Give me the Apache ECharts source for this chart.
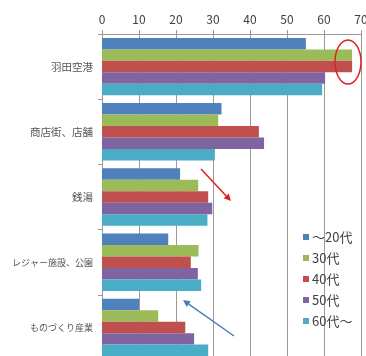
<!DOCTYPE html>
<html><head><meta charset="utf-8">
<script src="https://cdn.jsdelivr.net/npm/echarts@6/dist/echarts.min.js"></script>
<style>html,body{margin:0;padding:0;background:#fff}#c{width:366px;height:356px}</style>
</head><body><div id="c"></div>
<script>
const categories = ['羽田空港', '商店街、店舗', '銭湯', 'レジャー施設、公園', 'ものづくり産業'];
const seriesNames = ['～20代', '30代', '40代', '50代', '60代～'];
const age20 = [55.1, 32.3, 21.1, 17.9, 10.0];
const age30 = [67.6, 31.4, 26.0, 26.1, 15.2];
const age40 = [67.6, 42.4, 28.7, 24.0, 22.5];
const age50 = [60.3, 43.8, 29.8, 25.9, 24.9];
const age60 = [59.5, 30.5, 28.5, 26.8, 28.7];
const xTicks = [0, 10, 20, 30, 40, 50, 60, 70];

const colors = ['#4f81bd', '#9bbb59', '#c0504d', '#8064a2', '#4bacc6'];
const allData = [age20, age30, age40, age50, age60];

const chart = echarts.init(document.getElementById('c'));
const font = '"Noto Sans CJK JP", "Noto Sans", sans-serif';
chart.setOption({
  animation: false,
  textStyle: { fontFamily: font },
  grid: { left: 102, right: 5, top: 34, bottom: -4, containLabel: false, outerBoundsMode: 'none' },
  legend: {
    orient: 'vertical', left: 298, top: 225,
    itemWidth: 6, itemHeight: 6, itemGap: 7,
    icon: 'rect',
    textStyle: { fontSize: 13, color: '#404040', padding: [0, 0, 0, -2], lineHeight: 14 },
    data: seriesNames
  },
  xAxis: {
    type: 'value', position: 'top', min: xTicks[0], max: xTicks[xTicks.length - 1], interval: 10,
    axisLine: { show: true, lineStyle: { color: '#9a9a9a' } },
    axisTick: { show: true, length: 4, lineStyle: { color: '#9a9a9a' } },
    axisLabel: { fontSize: 12, color: '#404040', margin: 9 },
    splitLine: { show: true, lineStyle: { color: '#9a9a9a', width: 1 } }
  },
  yAxis: {
    type: 'category', inverse: true, data: categories,
    axisLine: { show: true, lineStyle: { color: '#9a9a9a' } },
    axisTick: { show: true, length: 4, lineStyle: { color: '#9a9a9a' } },
    axisLabel: {
      fontSize: 10.5, color: '#555555', margin: 9,
      formatter: v => v.length > 6 ? '{s|' + v + '}' : v,
      rich: { s: { fontSize: 9, color: '#555555' } }
    }
  },
  series: seriesNames.map((n, i) => ({
    name: n, type: 'bar', data: allData[i],
    barGap: '0%', barCategoryGap: '12%',
    itemStyle: { color: colors[i] }
  }))
});

// Annotations (decorations drawn on top)
function arrow(x1, y1, x2, y2, color) {
  const ang = Math.atan2(y2 - y1, x2 - x1), L = 7, W = 3.5;
  const bx = x2 - L * Math.cos(ang), by = y2 - L * Math.sin(ang);
  const px = -Math.sin(ang) * W, py = Math.cos(ang) * W;
  return [
    { type: 'line', shape: { x1, y1, x2: bx, y2: by }, style: { stroke: color, lineWidth: 1.5 }, z: 100 },
    { type: 'polygon', shape: { points: [[x2, y2], [bx + px, by + py], [bx - px, by - py]] }, style: { fill: color }, z: 100 }
  ];
}
chart.setOption({
  graphic: [
    { type: 'ellipse', shape: { cx: 348, cy: 62, rx: 13, ry: 22 }, style: { fill: 'none', stroke: '#e02020', lineWidth: 1.5 }, z: 100 },
    ...arrow(201, 169, 231, 201, '#e02020'),
    ...arrow(234, 336, 183, 300, '#4a7ebb')
  ]
});
</script></body></html>
